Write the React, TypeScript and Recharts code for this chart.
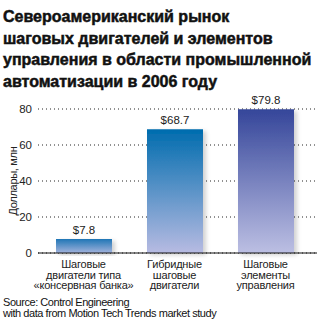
import { BarChart, Bar, XAxis, YAxis, CartesianGrid, Cell, LabelList } from 'recharts';

const categories = [
  'Шаговые\nдвигатели типа\n«консервная банка»',
  'Гибридные\nшаговые\nдвигатели',
  'Шаговые\nэлементы\nуправления',
];
const values = [7.8, 68.7, 79.8];
const yTicks = [0, 20, 40, 60, 80];

const titleLines = [
  'Североамериканский рынок',
  'шаговых двигателей и элементов',
  'управления в области промышленной',
  'автоматизации в 2006 году',
];
const sourceLines = ['Source: Control Engineering', 'with data from Motion Tech Trends market study'];

const gradients = [
  { id: 'g0', top: '#1f76b6', bottom: '#a3b3dc' },
  { id: 'g1', top: '#006cae', bottom: '#b7bbe2' },
  { id: 'g2', top: '#35469a', bottom: '#bcbfe3' },
];

const data = categories.map((name, i) => ({ name, value: values[i] }));

const sans = '"Liberation Sans", Arial, sans-serif';

const CategoryTick = ({ x, y, payload }: any) => {
  const lines = String(payload.value).split('\n');
  return (
    <text x={x} y={y} textAnchor="middle" fill="#222" fontSize={11} fontFamily={sans} letterSpacing={-0.2}>
      {lines.map((l, i) => (
        <tspan key={i} x={x} dy={i === 0 ? 15 : 10.6}>
          {l}
        </tspan>
      ))}
    </text>
  );
};

const App = () => {
  return (
    <div style={{ position: 'absolute', left: 0, top: 0, width: 323, height: 326, background: '#fff' }}>
      <div
        style={{
          position: 'absolute',
          left: 3,
          top: 6,
          fontFamily: sans,
          fontWeight: 700,
          fontSize: 16,
          lineHeight: '21.5px',
          color: '#111',
          whiteSpace: 'nowrap',
          WebkitTextStroke: '0.5px #111',
        }}
      >
        {titleLines.map((t, i) => (
          <div key={i}>{t}</div>
        ))}
      </div>
      <BarChart
        width={323}
        height={326}
        data={data}
        margin={{ top: 109, right: 6, bottom: 13, left: 0 }}
        style={{ position: 'absolute', left: 0, top: 0 }}
      >
        <defs>
          {gradients.map((g) => (
            <linearGradient key={g.id} id={g.id} x1="0" y1="0" x2="0" y2="1">
              <stop offset="0%" stopColor={g.top} />
              <stop offset="100%" stopColor={g.bottom} />
            </linearGradient>
          ))}
          <filter id="shadow" x="-10%" y="-10%" width="130%" height="130%">
            <feDropShadow dx="3" dy="2" stdDeviation="2" floodColor="#000" floodOpacity="0.18" />
          </filter>
        </defs>
        <CartesianGrid vertical={false} stroke="#222" strokeDasharray="1 3" />
        <XAxis
          dataKey="name"
          axisLine={{ stroke: '#111', strokeWidth: 1 }}
          tickLine={false}
          tickSize={0}
          tickMargin={0}
          height={60}
          padding={{ left: 0, right: 6 }}
          tick={<CategoryTick />}
          interval={0}
        />
        <YAxis
          domain={[0, 80]}
          ticks={yTicks}
          width={38}
          axisLine={false}
          tickLine={false}
          tickSize={0}
          tickMargin={6}
          tick={{ fill: '#222', fontSize: 11.5, fontFamily: sans }}
          label={{
            content: ({ viewBox }: any) => {
              const cy = viewBox.y + viewBox.height / 2;
              return (
                <text
                  x={13}
                  y={cy}
                  transform={`rotate(-90 13 ${cy})`}
                  textAnchor="middle"
                  dominantBaseline="central"
                  fill="#222"
                  fontSize={11}
                  fontFamily={sans}
                  letterSpacing={-0.3}
                >
                  Доллары, млн
                </text>
              );
            },
          }}
        />
        <Bar dataKey="value" barSize={56} isAnimationActive={false}>
          {data.map((_, i) => (
            <Cell key={i} fill={`url(#${gradients[i].id})`} filter="url(#shadow)" />
          ))}
          <LabelList
            dataKey="value"
            position="top"
            offset={5}
            formatter={(v: any) => `$${v}`}
            style={{ fill: '#222', fontSize: 11.5, fontFamily: sans }}
          />
        </Bar>
      </BarChart>
      <div
        style={{
          position: 'absolute',
          left: 3,
          top: 297,
          fontFamily: sans,
          fontSize: 11,
          letterSpacing: '-0.45px',
          lineHeight: '10.5px',
          color: '#111',
          whiteSpace: 'nowrap',
        }}
      >
        {sourceLines.map((t, i) => (
          <div key={i}>{t}</div>
        ))}
      </div>
    </div>
  );
};

export default App;
